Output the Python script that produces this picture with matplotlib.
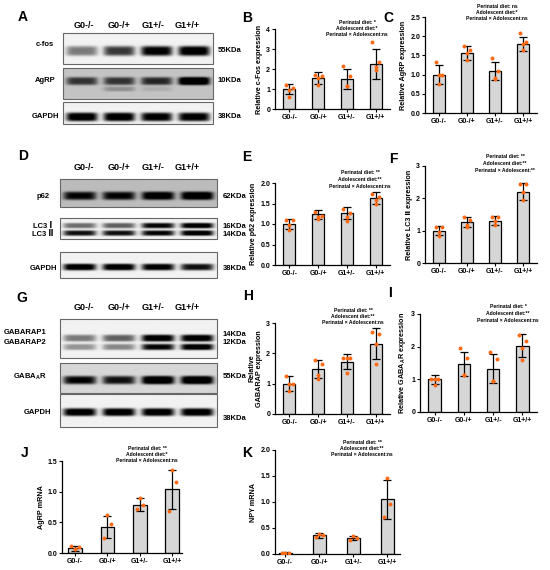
import numpy as np
import matplotlib
matplotlib.use("Agg")
import matplotlib.pyplot as plt
from matplotlib.patches import Rectangle

plt.rcParams["font.family"] = ["Liberation Sans", "DejaVu Sans"]
plt.rcParams["font.weight"] = "bold"
plt.rcParams["mathtext.fontset"] = "custom"
plt.rcParams["mathtext.rm"] = "Liberation Sans:bold"
plt.rcParams["mathtext.it"] = "Liberation Sans:bold"
plt.rcParams["mathtext.bf"] = "Liberation Sans:bold"

groups = ["G0-/-", "G0-/+", "G1+/-", "G1+/+"]

# --- bar chart data (mean, sd, individual points) ---
cfos_mean = [1.0, 1.55, 1.5, 2.25]
cfos_err = [0.27, 0.28, 0.5, 0.75]
cfos_pts = [[1.22, 1.05, 0.97, 0.62], [1.72, 1.67, 1.53, 1.2],
            [2.15, 1.67, 1.17, 1.17], [3.37, 2.33, 2.1, 1.95]]

agrp_mean = [1.0, 1.56, 1.09, 1.8]
agrp_err = [0.25, 0.18, 0.24, 0.19]
agrp_pts = [[1.32, 1.0, 1.0, 0.75], [1.75, 1.65, 1.55, 1.38],
            [1.42, 1.1, 0.9, 0.88], [2.08, 1.85, 1.8, 1.63]]

p62_mean = [1.0, 1.24, 1.26, 1.63]
p62_err = [0.13, 0.11, 0.15, 0.14]
p62_pts = [[1.09, 1.09, 0.97, 0.85], [1.3, 1.2, 1.18, 1.11],
           [1.37, 1.26, 1.18, 1.08], [1.73, 1.65, 1.59, 1.5]]

lc3_mean = [1.0, 1.26, 1.31, 2.2]
lc3_err = [0.14, 0.16, 0.14, 0.26]
lc3_pts = [[1.11, 1.11, 0.97, 0.85], [1.41, 1.34, 1.17, 1.11],
           [1.41, 1.41, 1.31, 1.16], [2.43, 2.43, 2.2, 1.95]]

gabarap_mean = [1.0, 1.48, 1.73, 2.32]
gabarap_err = [0.24, 0.3, 0.25, 0.5]
gabarap_pts = [[1.26, 1.0, 1.0, 0.76], [1.78, 1.64, 1.28, 1.17],
               [1.86, 1.86, 1.86, 1.34], [2.69, 2.64, 2.3, 1.64]]

gabaar_mean = [1.0, 1.47, 1.33, 2.03]
gabaar_err = [0.13, 0.38, 0.45, 0.36]
gabaar_pts = [[1.02, 1.02, 1.02, 0.82], [1.96, 1.65, 1.12, 1.12],
              [1.84, 1.63, 0.96, 0.96], [2.37, 2.16, 1.96, 1.58]]

agrp_mrna_mean = [0.08, 0.43, 0.79, 1.04]
agrp_mrna_err = [0.04, 0.18, 0.1, 0.32]
agrp_mrna_pts = [[0.12, 0.1, 0.07, 0.06], [0.62, 0.47, 0.24],
                 [0.9, 0.79, 0.71], [1.36, 1.15, 0.69]]

npy_mean = [0.02, 0.36, 0.3, 1.05]
npy_err = [0.01, 0.05, 0.04, 0.38]
npy_pts = [[0.02, 0.01, 0.02], [0.38, 0.36, 0.32],
           [0.34, 0.3, 0.27], [1.47, 0.97, 0.72]]

# --- blot band intensities per lane ---
cfos_band = [0.45, 0.7, 0.95, 1.0]
agrp_band = [0.55, 0.55, 0.6, 1.0]
gapdh_a_band = [1.0, 1.0, 0.95, 0.95]
p62_band = [0.7, 0.7, 0.8, 0.85]
lc3i_band = [0.5, 0.55, 0.9, 1.0]
lc3ii_band = [0.85, 0.85, 0.9, 1.0]
gapdh_d_band = [1.0, 1.0, 0.95, 0.85]
gabarap1_band = [0.45, 0.55, 1.0, 1.0]
gabarap2_band = [0.35, 0.4, 0.9, 1.0]
gabaar_band = [0.8, 0.75, 1.0, 1.0]
gapdh_g_band = [1.0, 1.0, 1.0, 1.0]

W, H = 550, 570
fig = plt.figure(figsize=(W / 100, H / 100), dpi=100)

cv = fig.add_axes([0, 0, 1, 1])
cv.set_xlim(0, W)
cv.set_ylim(H, 0)
cv.axis("off")


def draw_blot(x0, x1, y0, y1, bands, bg=0.05):
    xs = np.linspace(0, 4, 300)
    ys = np.linspace(0, 1, 80)
    X, Y = np.meshgrid(xs, ys)
    img = np.full_like(X, bg)
    for yc, h, amps in bands:
        for i, a in enumerate(amps):
            img += a * np.exp(-((X - (i + 0.5)) / 0.42) ** 6) * np.exp(-((Y - yc) / h) ** 4)
    cv.imshow(np.clip(img, 0, 1), cmap="gray_r", vmin=0, vmax=0.95,
              extent=(x0, x1, y1, y0), aspect="auto", interpolation="bilinear")
    cv.add_patch(Rectangle((x0, y0), x1 - x0, y1 - y0, fill=False, ec="0.4", lw=0.8))


def lane_labels(y):
    for i, g in enumerate(groups):
        cv.text(84 + 34.5 * i, y, g, ha="center", va="center", fontsize=6.5, fontweight="bold")


def letter(x, y, s):
    cv.text(x, y, s, ha="center", va="center", fontsize=10, fontweight="bold")


def side(x, y, s, ha="center"):
    cv.text(x, y, s, ha=ha, va="center", fontsize=5.5, fontweight="bold")


# Panel A
letter(23, 17, "A")
lane_labels(25)
draw_blot(63, 213, 33, 64, [(0.58, 0.16, cfos_band)])
draw_blot(63, 213, 68, 99, [(0.42, 0.13, agrp_band), (0.68, 0.08, [0.0, 0.2, 0.08, 0.0])], bg=0.22)
draw_blot(63, 213, 102, 124, [(0.68, 0.2, gapdh_a_band)])
side(45, 45, "c-fos")
side(45, 80, "AgRP")
side(45, 117, "GAPDH")
side(218, 51, "55KDa", "left")
side(218, 81, "10KDa", "left")
side(218, 117, "38KDa", "left")

# Panel D
letter(23, 156, "D")
lane_labels(167)
draw_blot(60, 217, 179, 207, [(0.6, 0.15, p62_band)], bg=0.25)
draw_blot(60, 217, 218, 239, [(0.36, 0.13, lc3i_band), (0.72, 0.13, lc3ii_band)])
draw_blot(60, 217, 252, 278, [(0.58, 0.13, gapdh_d_band)])
side(43, 196, "p62")
side(43, 226, "LC3 Ⅰ")
side(43, 234, "LC3 Ⅱ")
side(43, 268, "GAPDH")
side(223, 197, "62KDa", "left")
side(223, 226, "16KDa", "left")
side(223, 234, "14KDa", "left")
side(223, 268, "38KDa", "left")

# Panel G
letter(22, 298, "G")
lane_labels(308)
draw_blot(60, 217, 319, 358, [(0.49, 0.09, gabarap1_band), (0.72, 0.08, gabarap2_band)])
draw_blot(60, 217, 363, 393, [(0.57, 0.14, gabaar_band)], bg=0.15)
draw_blot(60, 217, 394, 427, [(0.55, 0.12, gapdh_g_band)])
side(25, 333, "GABARAP1")
side(25, 343, "GABARAP2")
side(30, 377, r"GABA$_\mathregular{A}$R")
side(37, 413, "GAPDH")
side(223, 334, "14KDa", "left")
side(223, 343, "12KDa", "left")
side(223, 377, "55KDa", "left")
side(223, 419, "38KDa", "left")

# bar chart letters
letter(247, 18, "B")
letter(388, 18, "C")
letter(247, 157, "E")
letter(393, 159, "F")
letter(248, 296, "H")
letter(390, 293, "I")
letter(25, 453, "J")
letter(247, 453, "K")


def stats(x, y, p, a, i):
    for k, s in enumerate(["Perinatal diet: " + p, "Adolescent diet:" + a,
                           "Perinatal \u00d7 Adolescent:" + i]):
        cv.text(x, y + 6.5 * k, s, ha="center", va="center", fontsize=3.6, fontweight="bold")


stats(357, 22, "*", "*", "ns")
stats(497, 6, "ns", "*", "ns")
stats(360, 173, "**", "**", "ns")
stats(505, 157, "**", "**", "**")
stats(353, 310, "**", "**", "ns")
stats(508, 307, "*", "**", "ns")
stats(147, 448, "**", "*", "ns")
stats(362, 442, "**", "**", "ns")


def px_axes(l, r, t, b):
    return fig.add_axes([l / W, 1 - b / H, (r - l) / W, (b - t) / H])


def bar_panel(ax, mean, err, pts, ymax, step, ylabel, fmt, xlim=(-0.5, 3.5), width=0.42):
    x = np.arange(len(groups))
    ax.bar(x, mean, width=width, color="#d6d6d6", edgecolor="black", linewidth=0.9, zorder=1)
    ax.errorbar(x, mean, yerr=err, fmt="none", ecolor="black", elinewidth=0.9,
                capsize=3, capthick=0.9, zorder=2)
    for i, vals in enumerate(pts):
        offs = [-0.12, 0.12, 0.0, 0.0] if len(vals) == 4 else [0.0, 0.1, -0.1]
        ax.scatter(i + np.array(offs), vals, s=8, color="#ff6a13", zorder=3, linewidths=0)
    ax.set_xlim(*xlim)
    ax.set_ylim(0, ymax)
    ticks = np.arange(0, ymax + step / 2, step)
    ax.set_yticks(ticks)
    ax.set_yticklabels([fmt.format(t) for t in ticks])
    ax.set_xticks(x)
    ax.set_xticklabels(groups)
    for s in ["top", "right"]:
        ax.spines[s].set_visible(False)
    for s in ["left", "bottom"]:
        ax.spines[s].set_linewidth(0.9)
    ax.tick_params(labelsize=5, width=0.8, length=2, pad=1.5)
    ax.set_ylabel(ylabel, fontsize=5.2, fontweight="bold", labelpad=2)
    ax.patch.set_alpha(0)


bar_panel(px_axes(275, 390, 29, 109), cfos_mean, cfos_err, cfos_pts, 4, 1,
          "Relative c-Fos expression", "{:.0f}")
bar_panel(px_axes(425, 537, 17, 113), agrp_mean, agrp_err, agrp_pts, 2.5, 0.5,
          "Relative AgRP expression", "{:.1f}")
bar_panel(px_axes(275, 390, 183, 265), p62_mean, p62_err, p62_pts, 2.0, 0.5,
          "Relative p62 expression", "{:.1f}")
bar_panel(px_axes(425, 537, 166, 263), lc3_mean, lc3_err, lc3_pts, 3, 1,
          "Relative LC3 Ⅱ expression", "{:.0f}")
bar_panel(px_axes(275, 390, 323, 414), gabarap_mean, gabarap_err, gabarap_pts, 3, 1,
          "Relative\nGABARAP expression", "{:.0f}")
bar_panel(px_axes(420, 537, 314, 412), gabaar_mean, gabaar_err, gabaar_pts, 3, 1,
          r"Relative GABA$_\mathregular{A}$R expression", "{:.0f}")
bar_panel(px_axes(62, 182, 461, 553), agrp_mrna_mean, agrp_mrna_err, agrp_mrna_pts, 1.5, 0.5,
          "AgRP mRNA", "{:.1f}", xlim=(-0.4, 3.3))
bar_panel(px_axes(275, 400, 450, 554), npy_mean, npy_err, npy_pts, 2.0, 0.5,
          "NPY mRNA", "{:.1f}", xlim=(-0.3, 3.38), width=0.38)

fig.savefig("out.png", dpi=100)
